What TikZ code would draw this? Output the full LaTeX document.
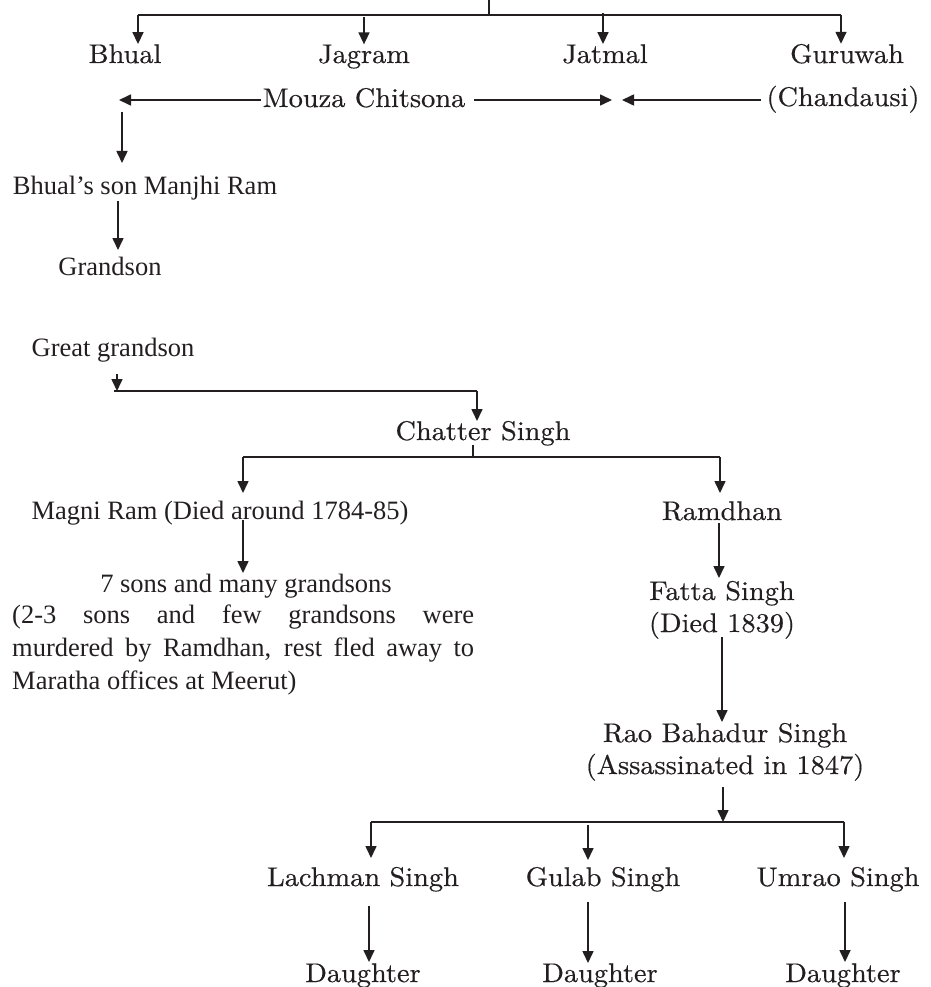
\documentclass[tikz,border=0pt]{standalone}
\usepackage{fontspec}
\setmainfont{lmroman10-regular.otf}[FakeStretch=1.05,FakeBold=0.4]
\newfontfamily\tms{Liberation Serif}
\usetikzlibrary{arrows.meta}
\definecolor{ink}{RGB}{35,31,32}
\tikzset{
  wide/.style={font=\fontsize{27}{33}\selectfont, inner sep=0pt, anchor=base, text=ink},
  tnr/.style={font=\tms\fontsize{26.5}{33}\selectfont, inner sep=0pt, anchor=base, text=ink},
  arr/.style={draw=ink, line width=1.6pt, -{Triangle[length=12pt,width=11pt]}},
  ln/.style={draw=ink, line width=1.6pt},
}
\begin{document}
\begin{tikzpicture}[x=1pt,y=-1pt]
\useasboundingbox (0,0) rectangle (930,987);
% ---------- top row ----------
\node[wide] (bhual)  at (125,63) {Bhual};
\node[wide] (jagram) at (364,63) {Jagram};
\node[wide] (jatmal) at (605,63) {Jatmal};
\node[wide] (guru)   at (847,63) {Guruwah};
\coordinate (t0) at (489,0);
\coordinate (t1) at (489,15);
\coordinate (bL) at (138,15);
\coordinate (bR) at (841,15);
\coordinate (bJ) at (364,17);
\coordinate (bT) at (603,13);
\draw[ln] (t0) -- (t1);
\draw[ln] (bL) -- (bR);
\draw[arr] (bL) -- (bL |- bhual.north);
\draw[arr] (bJ) -- (bJ |- jagram.north);
\draw[arr] (bT) -- (bT |- jatmal.north);
\draw[arr] (bR) -- (bR |- guru.north);
% ---------- Mouza Chitsona row ----------
\node[wide] (mouza) at (364,107) {Mouza Chitsona};
\node[wide] (chand) at (843,106) {(Chandausi)};
\coordinate (mL) at (119,100);
\coordinate (mR) at (612,100);
\coordinate (cL) at (622,100);
\draw[arr] ([xshift=-2pt]mouza.west |- mL) -- (mL);
\draw[arr] ([xshift=9pt]mouza.east |- mR) -- (mR);
\draw[arr] ([xshift=-5pt]chand.west |- cL) -- (cL);
% ---------- Bhual's line ----------
\node[tnr] (manjhi) at (145,194) {Bhual’s son Manjhi Ram};
\coordinate (d1) at (122,112);
\coordinate (d1e) at (122,163);
\draw[arr] (d1) -- (d1e);
\node[tnr] (grand) at (110,275) {Grandson};
\coordinate (d2) at (118,201);
\coordinate (d2e) at (118,250);
\draw[arr] (d2) -- (d2e);
\node[tnr] (ggrand) at (113,356) {Great grandson};
\coordinate (g1) at (117,374);
\coordinate (g2) at (117,391);
\coordinate (g3) at (477,391);
\coordinate (g4) at (477,421);
\draw[arr] (g1) -- (g2);
\draw[ln] ([xshift=-3pt]g2) -- (g3);
\draw[arr] (g3) -- (g4);
% ---------- Chatter Singh ----------
\node[wide] (chatter) at (483,440) {Chatter Singh};
\coordinate (c1) at (473,445);
\coordinate (c2) at (473,457);
\coordinate (cbL) at (243,457);
\coordinate (cbR) at (720,457);
\draw[ln] (c1) -- (c2);
\draw[ln] (cbL) -- (cbR);
\draw[arr] (cbL) -- (243,493);
\draw[arr] (cbR) -- (720,493);
% ---------- Magni Ram branch ----------
\node[tnr] (magni) at (220,519) {Magni Ram (Died around 1784-85)};
\coordinate (m1) at (243,520);
\coordinate (m2) at (243,573);
\draw[arr] (m1) -- (m2);
\node[tnr] (sons) at (246,592) {7 sons and many grandsons};
\node[tnr, anchor=base west] (p1) at (12,623) {\makebox[462pt][s]{(2-3 sons and few grandsons were}};
\node[tnr, anchor=base west] (p2) at (12,656) {\makebox[462pt][s]{murdered by Ramdhan, rest fled away to}};
\node[tnr, anchor=base west] (p3) at (12,689) {Maratha offices at Meerut)};
% ---------- Ramdhan branch ----------
\node[wide] (ramdhan) at (722,520) {Ramdhan};
\coordinate (r1) at (719,523);
\coordinate (r2) at (719,578);
\draw[arr] (r1) -- (r2);
\node[wide] (fatta)  at (722,600) {Fatta Singh};
\node[wide] (fattad) at (722,632) {(Died 1839)};
\coordinate (f1) at (722,637);
\coordinate (f2) at (722,722);
\draw[arr] (f1) -- (f2);
\node[wide] (rao)  at (725,742) {Rao Bahadur Singh};
\node[wide] (raod) at (725,774) {(Assassinated in 1847)};
\coordinate (ra1) at (723,787);
\coordinate (ra2) at (723,822);
\draw[arr] (ra1) -- (ra2);
\coordinate (sbL) at (371,822);
\coordinate (sbR) at (844,822);
\coordinate (sbG) at (588,825);
\draw[ln] (sbL) -- (sbR);
% ---------- sons of Rao Bahadur ----------
\node[wide] (lach)  at (363,886) {Lachman Singh};
\node[wide] (gulab) at (603,886) {Gulab Singh};
\node[wide] (umrao) at (838,886) {Umrao Singh};
\draw[arr] (sbL) -- (371,858);
\draw[arr] (sbG) -- (588,860);
\draw[arr] (sbR) -- (844,858);
\node[wide] (dau1) at (363,982) {Daughter};
\node[wide] (dau2) at (600,982) {Daughter};
\node[wide] (dau3) at (843,982) {Daughter};
\draw[arr] (369,906) -- (369,962);
\draw[arr] (588,902) -- (588,963);
\draw[arr] (845,902) -- (845,962);
\end{tikzpicture}
\end{document}
